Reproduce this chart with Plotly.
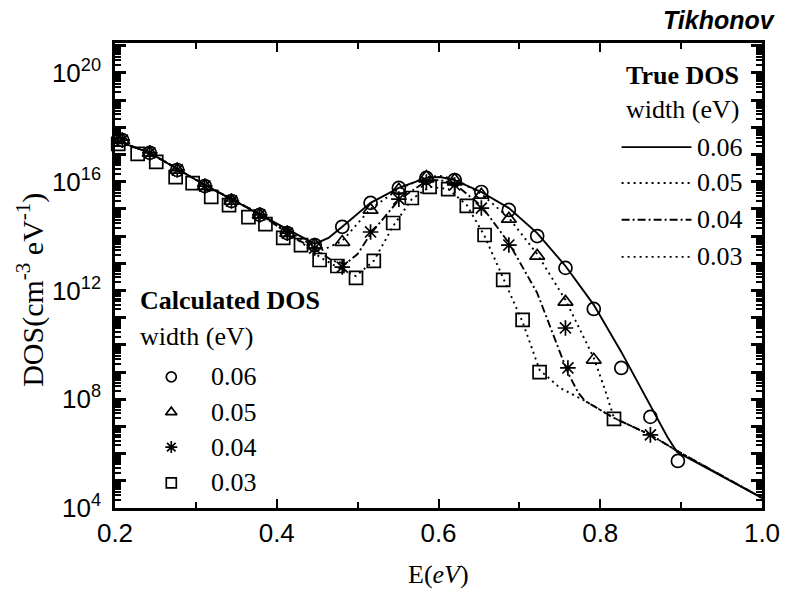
import plotly.graph_objects as go

# ---------------- data (log10 of DOS) ----------------
# True DOS curves
x_t06 = [0.200, 0.243, 0.311, 0.379, 0.447, 0.464, 0.481, 0.516, 0.551, 0.585, 0.602, 0.620,
         0.653, 0.687, 0.722, 0.757, 0.792, 0.826, 0.862, 0.883, 0.895, 1.000]
y_t06 = [17.53, 17.06, 15.88, 14.81, 13.71, 13.93, 14.34, 15.22, 15.77, 16.14, 16.17, 16.06,
         15.62, 15.03, 14.11, 12.90, 11.47, 9.74, 7.79, 6.61, 6.06, 4.37]

x_t05 = [0.200, 0.243, 0.311, 0.379, 0.432, 0.457, 0.481, 0.516, 0.551, 0.585, 0.602, 0.620,
         0.653, 0.687, 0.722, 0.757, 0.792, 0.806, 0.817, 0.862, 0.895, 1.000]
y_t05 = [17.53, 17.06, 15.88, 14.81, 13.86, 13.49, 13.82, 15.00, 15.73, 16.17, 16.21, 16.10,
         15.55, 14.67, 13.34, 11.65, 9.52, 8.34, 7.31, 6.69, 6.10, 4.37]

x_t04 = [0.200, 0.243, 0.311, 0.379, 0.426, 0.447, 0.469, 0.485, 0.500, 0.516, 0.551, 0.585,
         0.602, 0.620, 0.653, 0.687, 0.722, 0.744, 0.760, 0.773, 0.781, 0.817, 0.862, 0.895, 1.000]
y_t04 = [17.53, 17.06, 15.88, 14.81, 13.86, 13.53, 13.09, 12.98, 13.34, 14.08, 15.33, 16.03,
         16.06, 15.92, 15.11, 13.75, 11.91, 10.18, 8.97, 8.23, 7.94, 7.31, 6.69, 6.10, 4.37]

x_t03 = [0.200, 0.243, 0.311, 0.379, 0.430, 0.453, 0.475, 0.498, 0.520, 0.544, 0.567, 0.589,
         0.612, 0.635, 0.657, 0.680, 0.704, 0.725, 0.750, 0.781, 0.817, 0.862, 0.895, 1.000]
y_t03 = [17.53, 17.06, 15.88, 14.81, 13.78, 13.23, 12.86, 12.53, 13.09, 14.37, 15.36, 15.81,
         15.73, 15.14, 14.00, 12.42, 10.84, 9.08, 8.42, 7.94, 7.31, 6.69, 6.10, 4.37]

# Calculated DOS points
x_c06 = [0.209, 0.243, 0.277, 0.311, 0.344, 0.379, 0.413, 0.447, 0.481, 0.516, 0.551, 0.585,
         0.620, 0.653, 0.687, 0.722, 0.757, 0.792, 0.826, 0.862, 0.896]
y_c06 = [17.53, 17.06, 16.43, 15.84, 15.29, 14.78, 14.11, 13.67, 14.34, 15.22, 15.77, 16.14,
         16.06, 15.62, 14.96, 14.00, 12.83, 11.32, 9.15, 7.35, 5.73]

x_c05 = [0.209, 0.243, 0.277, 0.311, 0.344, 0.379, 0.413, 0.447, 0.481, 0.516, 0.551, 0.585,
         0.620, 0.653, 0.687, 0.722, 0.757, 0.792]
y_c05 = [17.53, 17.06, 16.43, 15.84, 15.29, 14.78, 14.11, 13.67, 13.78, 14.96, 15.70, 16.17,
         16.06, 15.51, 14.63, 13.27, 11.58, 9.45]

x_c04 = [0.209, 0.243, 0.277, 0.311, 0.344, 0.379, 0.413, 0.447, 0.481, 0.516, 0.551, 0.585,
         0.620, 0.653, 0.687, 0.757, 0.760, 0.862]
y_c04 = [17.53, 17.06, 16.43, 15.84, 15.29, 14.78, 14.11, 13.56, 12.86, 14.15, 15.36, 15.99,
         15.88, 15.03, 13.67, 10.62, 9.15, 6.69]

x_c03 = [0.204, 0.228, 0.251, 0.275, 0.296, 0.319, 0.341, 0.365, 0.386, 0.408, 0.430, 0.453,
         0.475, 0.498, 0.520, 0.544, 0.567, 0.589, 0.612, 0.635, 0.657, 0.680, 0.704, 0.725, 0.817]
y_c03 = [17.39, 17.02, 16.73, 16.17, 15.95, 15.44, 15.14, 14.70, 14.44, 13.93, 13.67, 13.12,
         12.90, 12.46, 13.09, 14.48, 15.40, 15.81, 15.73, 15.11, 14.04, 12.39, 10.92, 9.00, 7.28]

widths = ["0.06", "0.05", "0.04", "0.03"]
x_ticks = [0.2, 0.4, 0.6, 0.8, 1.0]
y_label_exps = [4, 8, 12, 16, 20]

# ---------------- styles ----------------
SERIF = "Liberation Serif"
SANS = "Liberation Sans"
line_styles = {"0.06": "solid", "0.05": "2px,4px", "0.04": "8px,3px,2px,3px", "0.03": "2px,4px"}
marker_syms = {"0.06": "circle-open", "0.05": "triangle-up-open", "0.04": "asterisk-open",
               "0.03": "square-open"}

fig = go.Figure()

true_sets = [(x_t06, y_t06, "0.06"), (x_t05, y_t05, "0.05"), (x_t04, y_t04, "0.04"), (x_t03, y_t03, "0.03")]
for xs, ys, w in true_sets:
    fig.add_trace(go.Scatter(x=xs, y=[10.0 ** v for v in ys], mode="lines",
                             line=dict(color="black", width=1.9, dash=line_styles[w]),
                             showlegend=False, hoverinfo="skip"))

calc_sets = [(x_c06, y_c06, "0.06"), (x_c05, y_c05, "0.05"), (x_c04, y_c04, "0.04"), (x_c03, y_c03, "0.03")]
for xs, ys, w in calc_sets:
    fig.add_trace(go.Scatter(x=xs, y=[10.0 ** v for v in ys], mode="markers",
                             marker=dict(symbol=marker_syms[w], size=13, color="black",
                                         line=dict(color="black", width=1.7)),
                             showlegend=False, hoverinfo="skip", cliponaxis=False))

# ---------------- legend (paper coords via overlay axes) ----------------
leg_line_y = [0.776, 0.699, 0.620, 0.540]
leg_mark_y = [0.282, 0.206, 0.131, 0.054]
shapes = []
annotations = []
for w, yy in zip(widths, leg_line_y):
    shapes.append(dict(type="line", xref="paper", yref="paper", x0=0.783, x1=0.891, y0=yy, y1=yy,
                       line=dict(color="black", width=1.9, dash=line_styles[w])))
    annotations.append(dict(xref="paper", yref="paper", x=0.897, y=yy, xanchor="left", yanchor="middle",
                            text=w, showarrow=False, font=dict(family=SERIF, size=26, color="black")))
annotations.append(dict(xref="paper", yref="paper", x=0.968, y=0.931, xanchor="right", yanchor="middle",
                        text="<b>True DOS</b>", showarrow=False, font=dict(family=SERIF, size=26, color="black")))
annotations.append(dict(xref="paper", yref="paper", x=0.968, y=0.856, xanchor="right", yanchor="middle",
                        text="width (eV)", showarrow=False, font=dict(family=SERIF, size=26, color="black")))

annotations.append(dict(xref="paper", yref="paper", x=0.036, y=0.447, xanchor="left", yanchor="middle",
                        text="<b>Calculated DOS</b>", showarrow=False, font=dict(family=SERIF, size=26, color="black")))
annotations.append(dict(xref="paper", yref="paper", x=0.036, y=0.368, xanchor="left", yanchor="middle",
                        text="width (eV)", showarrow=False, font=dict(family=SERIF, size=26, color="black")))
for w, yy in zip(widths, leg_mark_y):
    annotations.append(dict(xref="paper", yref="paper", x=0.146, y=yy, xanchor="left", yanchor="middle",
                            text=w, showarrow=False, font=dict(family=SERIF, size=26, color="black")))

fig.add_trace(go.Scatter(x=[0.087] * 4, y=leg_mark_y, xaxis="x2", yaxis="y2", mode="markers",
                         marker=dict(symbol=[marker_syms[w] for w in widths], size=10, color="black",
                                     line=dict(color="black", width=1.7)),
                         showlegend=False, hoverinfo="skip", cliponaxis=False))

# title & axis titles
annotations.append(dict(xref="paper", yref="paper", x=1.025, y=1.049, xanchor="right", yanchor="middle",
                        text="<b><i>Tikhonov</i></b>", showarrow=False,
                        font=dict(family=SANS, size=25, color="black")))
annotations.append(dict(xref="paper", yref="paper", x=0.5, y=-0.144, xanchor="center", yanchor="middle",
                        text="E(<i>eV</i>)", showarrow=False, font=dict(family=SERIF, size=26, color="black")))
annotations.append(dict(xref="paper", yref="paper", x=-0.13, y=0.469, xanchor="center", yanchor="middle",
                        text="DOS(cm<sup>-3</sup> eV<sup>-1</sup>)", textangle=-90, showarrow=False,
                        font=dict(family=SERIF, size=30, color="black")))

# ---------------- axes ----------------
decades = list(range(4, 22))
y_major = [10.0 ** d for d in decades]
y_text = [("10<sup>%d</sup>" % d) if d in y_label_exps else "" for d in decades]
y_minor = [m * 10.0 ** d for d in range(4, 21) for m in range(2, 10)]

fig.update_layout(
    width=792, height=592,
    margin=dict(l=115, r=23, t=43, b=84),
    paper_bgcolor="white", plot_bgcolor="white",
    shapes=shapes, annotations=annotations,
    xaxis=dict(range=[0.2, 1.0], tickvals=x_ticks, ticktext=["%.1f" % v for v in x_ticks],
               ticks="inside", ticklen=9, tickwidth=1.5, tickcolor="black",
               showline=True, linewidth=2.5, linecolor="black", mirror="allticks",
               showgrid=False, zeroline=False,
               tickfont=dict(family=SANS, size=26, color="black"),
               minor=dict(tickvals=[0.3, 0.5, 0.7, 0.9], ticks="inside", ticklen=6,
                          tickwidth=1.5, tickcolor="black", showgrid=False)),
    yaxis=dict(type="log", range=[4, 21.1], tickvals=y_major, ticktext=y_text,
               ticks="inside", ticklen=11, tickwidth=2.5, tickcolor="black",
               showline=True, linewidth=2.5, linecolor="black", mirror="allticks",
               showgrid=False, zeroline=False, ticklabelstandoff=6,
               tickfont=dict(family=SANS, size=26, color="black"),
               minor=dict(tickvals=y_minor, ticks="inside", ticklen=6, tickwidth=1.8,
                          tickcolor="black", showgrid=False)),
    xaxis2=dict(overlaying="x", range=[0, 1], visible=False),
    yaxis2=dict(overlaying="y", range=[0, 1], visible=False),
)

fig.write_html("out.html")
